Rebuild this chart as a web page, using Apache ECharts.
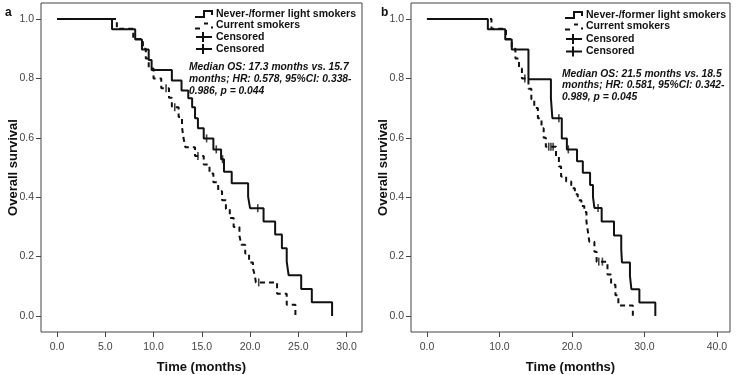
<!DOCTYPE html>
<html>
<head>
<meta charset="utf-8">
<script src="https://cdn.jsdelivr.net/npm/echarts@6/dist/echarts.min.js"></script>
<style>html,body{margin:0;padding:0;background:#fff;}#chart{width:736px;height:375px;}</style>
</head>
<body>
<div id="chart"></div>
<script>
// ---------- data ----------
// Panel a
var aNeverTime = [0, 5.7, 8.1, 8.8, 9.5, 9.8, 11.9, 12.9, 13.6, 14.0, 14.3, 14.6, 15.2, 16.2, 17.0, 17.3, 18.1, 19.8, 20.0, 21.4, 22.6, 23.3, 23.8, 24.0, 25.3, 26.4, 28.5];
var aNeverSurv = [1, 0.966, 0.931, 0.897, 0.862, 0.828, 0.793, 0.759, 0.733, 0.703, 0.666, 0.632, 0.598, 0.561, 0.528, 0.486, 0.447, 0.402, 0.363, 0.318, 0.274, 0.228, 0.183, 0.137, 0.091, 0.046, 0];
var aNeverCensor = [15.5, 16.5, 17.15, 20.8];
var aCurrentTime = [0, 6.2, 7.9, 8.9, 9.2, 9.5, 10.0, 10.8, 11.6, 11.9, 12.6, 12.95, 13.1, 13.3, 14.3, 15.2, 15.8, 16.2, 16.7, 17.1, 17.5, 17.9, 18.3, 18.9, 19.1, 19.5, 19.9, 20.3, 20.5, 20.6, 22.8, 23.8, 24.7];
var aCurrentSurv = [1, 0.967, 0.933, 0.9, 0.867, 0.833, 0.80, 0.767, 0.735, 0.703, 0.670, 0.636, 0.60, 0.568, 0.539, 0.51, 0.48, 0.45, 0.42, 0.39, 0.36, 0.33, 0.30, 0.27, 0.24, 0.21, 0.18, 0.16, 0.136, 0.113, 0.075, 0.038, 0];
var aCurrentCensor = [11.3, 12.2, 14.6, 20.9];
// Panel b
var bNeverTime = [0, 8.4, 10.8, 11.7, 14.0, 17.1, 17.3, 18.6, 19.3, 20.7, 21.5, 22.5, 22.9, 23.1, 24.1, 25.8, 26.8, 26.9, 28.0, 28.2, 29.3, 31.5];
var bNeverSurv = [1, 0.966, 0.931, 0.897, 0.797, 0.733, 0.666, 0.598, 0.561, 0.521, 0.482, 0.441, 0.401, 0.364, 0.318, 0.271, 0.225, 0.18, 0.135, 0.09, 0.045, 0];
var bNeverCensor = [18.2, 19.5, 23.6];
var bCurrentTime = [0, 8.9, 10.9, 11.7, 12.2, 12.7, 13.1, 14.0, 14.4, 14.8, 15.3, 15.8, 16.1, 16.4, 17.8, 18.2, 18.5, 19.2, 19.9, 20.4, 20.8, 21.3, 21.7, 22.0, 22.2, 22.4, 23.1, 23.4, 24.9, 25.4, 26.0, 26.4, 28.4];
var bCurrentSurv = [1, 0.967, 0.933, 0.90, 0.867, 0.833, 0.80, 0.765, 0.73, 0.70, 0.666, 0.632, 0.60, 0.57, 0.537, 0.503, 0.47, 0.453, 0.43, 0.41, 0.39, 0.37, 0.35, 0.318, 0.284, 0.25, 0.216, 0.183, 0.14, 0.105, 0.07, 0.035, 0];
var bCurrentCensor = [13.5, 16.8, 17.1, 17.4, 23.7, 24.2];
// Axis ticks
var aXTicks = [0, 5, 10, 15, 20, 25, 30];
var bXTicks = [0, 10, 20, 30, 40];
var yTicks = [0, 0.2, 0.4, 0.6, 0.8, 1.0];
// Texts
var legendNames = ['Never-/former light smokers', 'Current smokers', 'Censored', 'Censored'];
var aNote = 'Median OS: 17.3 months vs. 15.7\nmonths; HR: 0.578, 95%CI: 0.338-\n0.986, p = 0.044';
var bNote = 'Median OS: 21.5 months vs. 18.5\nmonths; HR: 0.581, 95%CI: 0.342-\n0.989, p = 0.045';

// ---------- helpers ----------
function pairs(t, s) { return t.map(function (v, i) { return [v, s[i]]; }); }
function levelAt(t, s, x) { var v = s[0]; for (var i = 0; i < t.length; i++) { if (t[i] <= x) v = s[i]; } return v; }
function censorPts(ct, t, s) { return ct.map(function (x) { return [x, levelAt(t, s, x)]; }); }

var FONT = 'Liberation Sans, Arial, sans-serif';
var GRIDS = [
  { left: 41, top: 3, width: 321, height: 329 },
  { left: 411, top: 3, width: 319, height: 329 }
];

function xAxis(idx, min, max, ticks) {
  return {
    type: 'value', gridIndex: idx, min: min, max: max,
    splitLine: { show: false },
    axisLine: { show: false, onZero: false },
    axisTick: { show: true, length: 5, customValues: ticks, lineStyle: { color: '#444', width: 1 } },
    axisLabel: { customValues: ticks, color: '#444', fontSize: 10.5, fontFamily: FONT, margin: 10,
      formatter: function (v) { return v.toFixed(1); } },
    name: 'Time (months)', nameLocation: 'middle', nameGap: 29, nameMoveOverlap: false,
    nameTextStyle: { color: '#111', fontSize: 13, fontWeight: 'bold', fontFamily: FONT }
  };
}
function yAxis(idx) {
  return {
    type: 'value', gridIndex: idx, min: -0.054, max: 1.054,
    splitLine: { show: false },
    axisLine: { show: false, onZero: false },
    axisTick: { show: true, length: 5, customValues: yTicks, lineStyle: { color: '#444', width: 1 } },
    axisLabel: { customValues: yTicks, color: '#444', fontSize: 10.5, fontFamily: FONT, margin: 7,
      formatter: function (v) { return v.toFixed(1); } },
    name: 'Overall survival', nameLocation: 'middle', nameGap: 21, nameRotate: 90, nameMoveOverlap: false,
    nameTextStyle: { color: '#111', fontSize: 13, fontWeight: 'bold', fontFamily: FONT }
  };
}
function stepSeries(idx, name, t, s, dashed) {
  return {
    type: 'line', name: name, xAxisIndex: idx, yAxisIndex: idx, step: 'end',
    data: pairs(t, s), symbol: 'none', silent: true, animation: false,
    lineStyle: { color: '#111', width: 2, type: dashed ? [5, 4] : 'solid' }
  };
}
function censorSeries(idx, pts) {
  return {
    type: 'scatter', name: 'Censored', xAxisIndex: idx, yAxisIndex: idx,
    data: pts, symbol: 'rect', symbolSize: [1.6, 8], animation: false,
    itemStyle: { color: '#111' }
  };
}

// legend + notes drawn as graphic text / shapes
function legendGraphics(x0, rowsY, textX) {
  var g = [];
  var ls = { stroke: '#111', lineWidth: 2, fill: null };
  g.push({ type: 'polyline', shape: { points: [[x0, rowsY[0] + 3], [x0 + 9, rowsY[0] + 3], [x0 + 9, rowsY[0] - 3], [x0 + 17, rowsY[0] - 3], [x0 + 17, rowsY[0] + 1]] }, style: ls });
  g.push({ type: 'line', shape: { x1: x0, y1: rowsY[1] + 3, x2: x0 + 5, y2: rowsY[1] + 3 }, style: ls });
  g.push({ type: 'line', shape: { x1: x0 + 9, y1: rowsY[1] - 2, x2: x0 + 13, y2: rowsY[1] - 2 }, style: ls });
  g.push({ type: 'line', shape: { x1: x0 + 17, y1: rowsY[1] + 1, x2: x0 + 17, y2: rowsY[1] + 3 }, style: ls });
  for (var k = 2; k < 4; k++) {
    g.push({ type: 'line', shape: { x1: x0 + 1, y1: rowsY[k], x2: x0 + 17, y2: rowsY[k] }, style: ls });
    g.push({ type: 'line', shape: { x1: x0 + 8, y1: rowsY[k] - 5, x2: x0 + 8, y2: rowsY[k] + 5 }, style: ls });
  }
  for (var i = 0; i < 4; i++) {
    g.push({ type: 'text', x: textX, y: rowsY[i], style: { text: legendNames[i], fill: '#111', font: 'bold 10.5px ' + FONT, textVerticalAlign: 'middle' } });
  }
  return g;
}

var graphics = [];
graphics = graphics.concat(legendGraphics(195, [14, 25.5, 37, 49], 216));
graphics = graphics.concat(legendGraphics(565, [15, 26.5, 39, 51.5], 586));
graphics.push({ type: 'text', x: 189, y: 61.5, style: { text: aNote, fill: '#111', font: 'italic bold 10.3px ' + FONT, lineHeight: 11.7 } });
graphics.push({ type: 'text', x: 562, y: 68, style: { text: bNote, fill: '#111', font: 'italic bold 10.3px ' + FONT, lineHeight: 11.7 } });
graphics.push({ type: 'text', x: 5, y: 7, style: { text: 'a', fill: '#111', font: 'bold 12px ' + FONT } });
graphics.push({ type: 'text', x: 381, y: 7, style: { text: 'b', fill: '#111', font: 'bold 12px ' + FONT } });

var chart = echarts.init(document.getElementById('chart'), null, { renderer: 'canvas' });
chart.setOption({
  backgroundColor: '#fff',
  animation: false,
  grid: GRIDS.map(function (g) { return Object.assign({ show: true, borderColor: '#444', borderWidth: 1, backgroundColor: 'transparent', containLabel: false, outerBoundsMode: 'none' }, g); }),
  xAxis: [xAxis(0, -1.66, 31.6, aXTicks), xAxis(1, -2.2, 41.8, bXTicks)],
  yAxis: [yAxis(0), yAxis(1)],
  series: [
    stepSeries(0, 'Never-/former light smokers', aNeverTime, aNeverSurv, false),
    stepSeries(0, 'Current smokers', aCurrentTime, aCurrentSurv, true),
    censorSeries(0, censorPts(aNeverCensor, aNeverTime, aNeverSurv)),
    censorSeries(0, censorPts(aCurrentCensor, aCurrentTime, aCurrentSurv)),
    stepSeries(1, 'Never-/former light smokers', bNeverTime, bNeverSurv, false),
    stepSeries(1, 'Current smokers', bCurrentTime, bCurrentSurv, true),
    censorSeries(1, censorPts(bNeverCensor, bNeverTime, bNeverSurv)),
    censorSeries(1, censorPts(bCurrentCensor, bCurrentTime, bCurrentSurv))
  ],
  graphic: graphics
});
</script>
</body>
</html>
